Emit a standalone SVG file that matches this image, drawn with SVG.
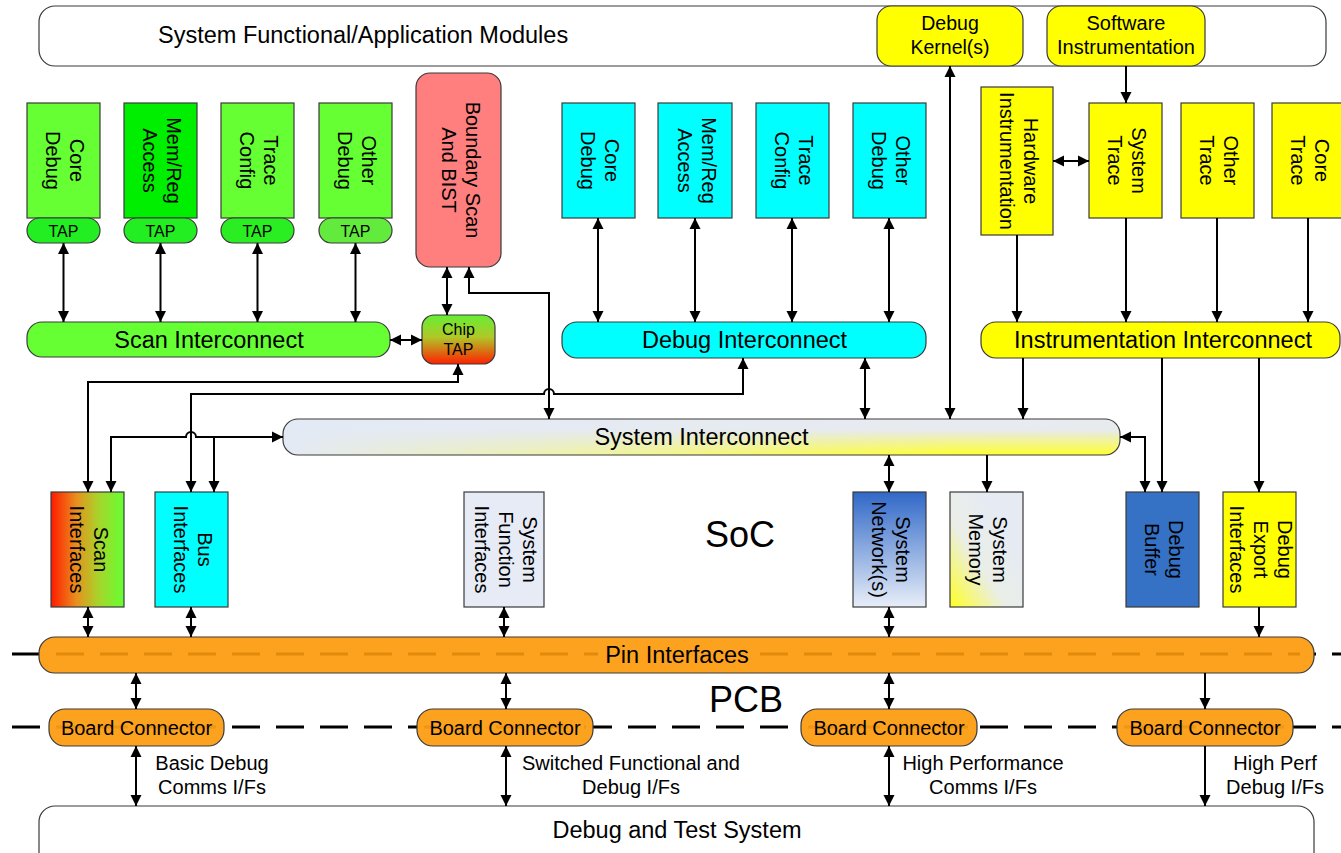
<svg xmlns="http://www.w3.org/2000/svg" width="1341" height="853" viewBox="0 0 1341 853">
  <style>
    .t { font-family: "Liberation Sans", Arial, sans-serif; fill: #000; }
    .box { stroke: #3a3a3a; stroke-width: 1.2; }
    .grn { fill: #66ff33; }
    .cyn { fill: #00ffff; }
    .yel { fill: #ffff00; }
    .org { fill: #fca21f; }
    .gry { fill: #e6ebf5; }
    .vl { font-size: 20px; text-anchor: middle; }
    .bar { font-size: 23.5px; text-anchor: middle; }
    .conn path { stroke: #000; stroke-width: 2; fill: none; }
    .both { marker-start: url(#ah); marker-end: url(#ah); }
    .fwd { marker-end: url(#ah); }
    .dash { stroke: #000; stroke-width: 3; stroke-dasharray: 28 16; fill: none; }
    .idash { stroke: #e28a0c; stroke-width: 3; stroke-dasharray: 28 16; fill: none; }
  </style>
  <defs>
    <marker id="ah" viewBox="0 0 12 12" refX="11" refY="6" markerWidth="12" markerHeight="12" markerUnits="userSpaceOnUse" orient="auto-start-reverse">
      <path d="M0,0.5 L11,6 L0,11.5 z" fill="#000"/>
    </marker>
    <linearGradient id="gScan" x1="0" y1="0" x2="1" y2="0">
      <stop offset="0" stop-color="#ff1a00"/>
      <stop offset="0.35" stop-color="#e8901e"/>
      <stop offset="0.65" stop-color="#a8d42a"/>
      <stop offset="1" stop-color="#66ff33"/>
    </linearGradient>
    <linearGradient id="gChip" x1="0" y1="0" x2="0" y2="1">
      <stop offset="0" stop-color="#66ee33"/>
      <stop offset="0.45" stop-color="#b0c828"/>
      <stop offset="1" stop-color="#ff2000"/>
    </linearGradient>
    <linearGradient id="gNet" x1="0" y1="0" x2="0" y2="1">
      <stop offset="0" stop-color="#3068c8"/>
      <stop offset="1" stop-color="#e8eef8"/>
    </linearGradient>
    <linearGradient id="gMem" x1="0" y1="1" x2="0.7" y2="0.3">
      <stop offset="0" stop-color="#ffff22"/>
      <stop offset="0.55" stop-color="#eaeee6"/>
      <stop offset="1" stop-color="#e6ebf3"/>
    </linearGradient>
    <linearGradient id="gSysH" x1="0" y1="0" x2="1" y2="0">
      <stop offset="0" stop-color="#e4eaf5"/>
      <stop offset="1" stop-color="#e8ebee"/>
    </linearGradient>
    <linearGradient id="gSysV" x1="0" y1="0" x2="0" y2="1">
      <stop offset="0.3" stop-color="#ffff30" stop-opacity="0"/>
      <stop offset="1" stop-color="#ffff30" stop-opacity="1"/>
    </linearGradient>
    <linearGradient id="gMaskH" x1="0" y1="0" x2="1" y2="0">
      <stop offset="0" stop-color="#000"/>
      <stop offset="0.3" stop-color="#555"/>
      <stop offset="0.8" stop-color="#fff"/>
    </linearGradient>
    <mask id="mSys" maskUnits="userSpaceOnUse" x="283" y="419" width="837" height="36">
      <rect x="283" y="419" width="837" height="36" fill="url(#gMaskH)"/>
    </mask>
  </defs>

  <!-- board-level dashed boundaries -->
  <g id="boundaries">
    <path class="dash" d="M12,654 H1341"/>
    <path class="dash" d="M12,727 H1341"/>
  </g>

  <!-- top application layer -->
  <g id="app-modules">
    <rect class="box" x="39" y="6" width="1287" height="60" rx="16" fill="#fff"/>
    <text class="t" x="158" y="43" font-size="23.5">System Functional/Application Modules</text>
  </g>
  <g id="debug-kernel">
    <rect class="box yel" x="877" y="6" width="146" height="60" rx="14"/>
    <text class="t" x="950" text-anchor="middle" font-size="19.5"><tspan x="950" y="30">Debug</tspan><tspan x="950" y="54">Kernel(s)</tspan></text>
  </g>
  <g id="sw-instr">
    <rect class="box yel" x="1047" y="6" width="158" height="60" rx="14"/>
    <text class="t" x="1126" text-anchor="middle" font-size="20"><tspan x="1126" y="30">Software</tspan><tspan x="1126" y="54">Instrumentation</tspan></text>
  </g>

  <!-- scan (TAP) debug components -->
  <g id="scan-core-debug">
    <rect class="box grn" x="27" y="103" width="73" height="115"/>
    <rect class="box" x="27" y="218" width="73" height="25" rx="12.5" fill="#22ee22"/>
    <text class="t vl" transform="translate(65.5,160.5) rotate(90)"><tspan x="0" y="-4.85">Core</tspan><tspan x="0" y="19.15">Debug</tspan></text>
    <text class="t" x="63.5" y="236.5" font-size="16" text-anchor="middle">TAP</text>
  </g>
  <g id="scan-mem-reg">
    <rect class="box" x="124" y="103" width="73" height="115" fill="#00ee00"/>
    <rect class="box" x="124" y="218" width="73" height="25" rx="12.5" fill="#22ee22"/>
    <text class="t vl" transform="translate(162.5,160.5) rotate(90)"><tspan x="0" y="-4.85">Mem/Reg</tspan><tspan x="0" y="19.15">Access</tspan></text>
    <text class="t" x="160.5" y="236.5" font-size="16" text-anchor="middle">TAP</text>
  </g>
  <g id="scan-trace-config">
    <rect class="box grn" x="221" y="103" width="73" height="115"/>
    <rect class="box" x="221" y="218" width="73" height="25" rx="12.5" fill="#2aee22"/>
    <text class="t vl" transform="translate(259.5,160.5) rotate(90)"><tspan x="0" y="-4.85">Trace</tspan><tspan x="0" y="19.15">Config</tspan></text>
    <text class="t" x="257.5" y="236.5" font-size="16" text-anchor="middle">TAP</text>
  </g>
  <g id="scan-other-debug">
    <rect class="box grn" x="319" y="103" width="73" height="115"/>
    <rect class="box" x="319" y="218" width="73" height="25" rx="12.5" fill="#62ea3c"/>
    <text class="t vl" transform="translate(357.5,160.5) rotate(90)"><tspan x="0" y="-4.85">Other</tspan><tspan x="0" y="19.15">Debug</tspan></text>
    <text class="t" x="355.5" y="236.5" font-size="16" text-anchor="middle">TAP</text>
  </g>
  <g id="scan-interconnect">
    <rect class="box grn" x="27" y="322" width="363" height="35" rx="15"/>
    <text class="t bar" x="209" y="348">Scan Interconnect</text>
  </g>
  <g id="boundary-scan">
    <rect class="box" x="416" y="73" width="85" height="194" rx="14" fill="#ff7f7f"/>
    <text class="t vl" transform="translate(461,170) rotate(90)"><tspan x="0" y="-4.85">Boundary Scan</tspan><tspan x="0" y="19.15">And BIST</tspan></text>
  </g>
  <g id="chip-tap">
    <rect class="box" x="422" y="315" width="73" height="49" rx="12" fill="url(#gChip)"/>
    <text class="t" x="458.5" text-anchor="middle" font-size="16"><tspan x="458.5" y="335">Chip</tspan><tspan x="458.5" y="355">TAP</tspan></text>
  </g>

  <!-- memory-mapped debug components -->
  <g id="dbg-core-debug">
    <rect class="box cyn" x="562" y="103" width="73" height="115"/>
    <text class="t vl" transform="translate(600.5,160.5) rotate(90)"><tspan x="0" y="-4.85">Core</tspan><tspan x="0" y="19.15">Debug</tspan></text>
  </g>
  <g id="dbg-mem-reg">
    <rect class="box cyn" x="658" y="103" width="74" height="115"/>
    <text class="t vl" transform="translate(697,160.5) rotate(90)"><tspan x="0" y="-4.85">Mem/Reg</tspan><tspan x="0" y="19.15">Access</tspan></text>
  </g>
  <g id="dbg-trace-config">
    <rect class="box cyn" x="756" y="103" width="73" height="115"/>
    <text class="t vl" transform="translate(794.5,160.5) rotate(90)"><tspan x="0" y="-4.85">Trace</tspan><tspan x="0" y="19.15">Config</tspan></text>
  </g>
  <g id="dbg-other-debug">
    <rect class="box cyn" x="853" y="103" width="73" height="115"/>
    <text class="t vl" transform="translate(891.5,160.5) rotate(90)"><tspan x="0" y="-4.85">Other</tspan><tspan x="0" y="19.15">Debug</tspan></text>
  </g>
  <g id="debug-interconnect">
    <rect class="box cyn" x="562" y="322" width="364" height="36" rx="15"/>
    <text class="t bar" x="744.5" y="348">Debug Interconnect</text>
  </g>

  <!-- instrumentation and trace sources -->
  <g id="hw-instr">
    <rect class="box yel" x="981" y="87" width="72" height="148"/>
    <text class="t vl" transform="translate(1019.5,161) rotate(90)"><tspan x="0" y="-4.85">Hardware</tspan><tspan x="0" y="19.15">Instrumentation</tspan></text>
  </g>
  <g id="system-trace">
    <rect class="box yel" x="1089" y="103" width="73" height="115"/>
    <text class="t vl" transform="translate(1127.5,160.5) rotate(90)"><tspan x="0" y="-4.85">System</tspan><tspan x="0" y="19.15">Trace</tspan></text>
  </g>
  <g id="other-trace">
    <rect class="box yel" x="1181" y="103" width="73" height="115"/>
    <text class="t vl" transform="translate(1219.5,160.5) rotate(90)"><tspan x="0" y="-4.85">Other</tspan><tspan x="0" y="19.15">Trace</tspan></text>
  </g>
  <g id="core-trace">
    <rect class="box yel" x="1272" y="103" width="75" height="115"/>
    <text class="t vl" transform="translate(1310.5,160.5) rotate(90)"><tspan x="0" y="-4.85">Core</tspan><tspan x="0" y="19.15">Trace</tspan></text>
  </g>
  <g id="instr-interconnect">
    <rect class="box yel" x="981" y="322" width="359" height="36" rx="15"/>
    <text class="t bar" x="1163" y="348">Instrumentation Interconnect</text>
  </g>

  <!-- system interconnect -->
  <g id="system-interconnect">
    <rect x="283" y="419" width="837" height="36" rx="15" fill="url(#gSysH)"/>
    <rect x="283" y="419" width="837" height="36" rx="15" fill="url(#gSysV)" mask="url(#mSys)"/>
    <rect class="box" x="283" y="419" width="837" height="36" rx="15" fill="none"/>
    <text class="t bar" x="701.5" y="445">System Interconnect</text>
  </g>

  <!-- SoC edge blocks -->
  <g id="scan-interfaces">
    <rect class="box" x="51" y="492" width="73" height="115" fill="url(#gScan)"/>
    <text class="t vl" transform="translate(89.5,549.5) rotate(90)"><tspan x="0" y="-4.85">Scan</tspan><tspan x="0" y="19.15">Interfaces</tspan></text>
  </g>
  <g id="bus-interfaces">
    <rect class="box cyn" x="155" y="492" width="73" height="115"/>
    <text class="t vl" transform="translate(193.5,549.5) rotate(90)"><tspan x="0" y="-4.85">Bus</tspan><tspan x="0" y="19.15">Interfaces</tspan></text>
  </g>
  <g id="sysfunc-interfaces">
    <rect class="box gry" x="464" y="492" width="80" height="115"/>
    <text class="t vl" transform="translate(506.5,549.5) rotate(90)"><tspan x="0" y="-16.85">System</tspan><tspan x="0" y="7.15">Function</tspan><tspan x="0" y="31.15">Interfaces</tspan></text>
  </g>
  <g id="system-networks">
    <rect class="box" x="853" y="492" width="73" height="115" fill="url(#gNet)"/>
    <text class="t vl" transform="translate(891.5,549.5) rotate(90)"><tspan x="0" y="-4.85">System</tspan><tspan x="0" y="19.15">Network(s)</tspan></text>
  </g>
  <g id="system-memory">
    <rect class="box" x="950" y="492" width="73" height="115" fill="url(#gMem)"/>
    <text class="t vl" transform="translate(988.5,549.5) rotate(90)"><tspan x="0" y="-4.85">System</tspan><tspan x="0" y="19.15">Memory</tspan></text>
  </g>
  <g id="debug-buffer">
    <rect class="box" x="1126" y="492" width="73" height="115" fill="#3572c6"/>
    <text class="t vl" transform="translate(1164.5,549.5) rotate(90)"><tspan x="0" y="-4.85">Debug</tspan><tspan x="0" y="19.15">Buffer</tspan></text>
  </g>
  <g id="debug-export">
    <rect class="box yel" x="1223" y="492" width="73" height="115"/>
    <text class="t vl" transform="translate(1261.5,549.5) rotate(90)"><tspan x="0" y="-16.85">Debug</tspan><tspan x="0" y="7.15">Export</tspan><tspan x="0" y="31.15">Interfaces</tspan></text>
  </g>

  <text id="soc-label" class="t" x="740" y="547" font-size="36" text-anchor="middle">SoC</text>

  <!-- pins and board -->
  <g id="pin-interfaces">
    <rect class="box org" x="39" y="637" width="1275" height="36" rx="16"/>
    <path class="idash" d="M56,654 H1300"/>
    <rect class="org" x="598" y="642" width="158" height="26"/>
    <text class="t bar" x="677" y="663">Pin Interfaces</text>
  </g>
  <text id="pcb-label" class="t" x="746" y="712" font-size="36" text-anchor="middle">PCB</text>
  <g id="board-conn-1">
    <rect class="box org" x="49" y="709" width="175" height="37" rx="16"/>
    <path class="idash" d="M56,727 H216" opacity="0.5"/>
    <text class="t" x="136.5" y="735" font-size="20" text-anchor="middle">Board Connector</text>
  </g>
  <g id="board-conn-2">
    <rect class="box org" x="417" y="709" width="176" height="37" rx="16"/>
    <path class="idash" d="M424,727 H586" stroke-dashoffset="16" opacity="0.5"/>
    <text class="t" x="505" y="735" font-size="20" text-anchor="middle">Board Connector</text>
  </g>
  <g id="board-conn-3">
    <rect class="box org" x="801" y="709" width="176" height="37" rx="16"/>
    <path class="idash" d="M808,727 H970" opacity="0.5"/>
    <text class="t" x="889" y="735" font-size="20" text-anchor="middle">Board Connector</text>
  </g>
  <g id="board-conn-4">
    <rect class="box org" x="1117" y="709" width="176" height="37" rx="16"/>
    <path class="idash" d="M1124,727 H1286" opacity="0.5"/>
    <text class="t" x="1205" y="735" font-size="20" text-anchor="middle">Board Connector</text>
  </g>
  <g id="debug-test-system">
    <rect class="box" x="39" y="806" width="1275" height="70" rx="16" fill="#fff"/>
    <text class="t bar" x="677" y="838">Debug and Test System</text>
  </g>

  <!-- link labels -->
  <g id="link-labels" class="t" font-size="20" text-anchor="middle">
    <text x="212" y="770">Basic Debug</text>
    <text x="212" y="794">Comms I/Fs</text>
    <text x="631" y="770">Switched Functional and</text>
    <text x="631" y="794">Debug I/Fs</text>
    <text x="983" y="770">High Performance</text>
    <text x="983" y="794">Comms I/Fs</text>
    <text x="1275" y="770">High Perf</text>
    <text x="1275" y="794">Debug I/Fs</text>
  </g>

  <!-- connectors -->
  <g id="connectors" class="conn">
    <path class="both" d="M63.5,243 V322"/>
    <path class="both" d="M160.5,243 V322"/>
    <path class="both" d="M257.5,243 V322"/>
    <path class="both" d="M355.5,243 V322"/>
    <path class="both" d="M390,340 H422"/>
    <path class="both" d="M447,267 V315"/>
    <path class="both" d="M469,267 V293 H549 V419"/>
    <path class="both" d="M458,364 V382 H88 V492"/>
    <path class="both" d="M743,358 V394 H554 A5,5 0 0 0 544,394 H191 V492"/>
    <path class="both" d="M111,492 V437 H186 A5,5 0 0 1 196,437 H283"/>
    <path class="fwd" d="M214,437 V492"/>
    <path class="both" d="M598,218 V322"/>
    <path class="both" d="M695,218 V322"/>
    <path class="both" d="M792,218 V322"/>
    <path class="both" d="M889,218 V322"/>
    <path class="both" d="M865,358 V419"/>
    <path class="both" d="M950,66 V419"/>
    <path class="fwd" d="M1126,66 V103"/>
    <path class="both" d="M1053,161 H1089"/>
    <path class="fwd" d="M1017,235 V322"/>
    <path class="fwd" d="M1126,218 V322"/>
    <path class="fwd" d="M1217,218 V322"/>
    <path class="fwd" d="M1308,218 V322"/>
    <path class="fwd" d="M1023,358 V419"/>
    <path class="fwd" d="M1162,358 V492"/>
    <path class="fwd" d="M1259,358 V492"/>
    <path class="both" d="M1120,437 H1145 V492"/>
    <path class="both" d="M889,455 V492"/>
    <path class="fwd" d="M987,455 V492"/>
    <path class="both" d="M88,607 V637"/>
    <path class="both" d="M191,607 V637"/>
    <path class="both" d="M504,607 V637"/>
    <path class="both" d="M889,607 V637"/>
    <path class="fwd" d="M1259,607 V637"/>
    <path class="both" d="M136,673 V709"/>
    <path class="both" d="M506,673 V709"/>
    <path class="both" d="M889,673 V709"/>
    <path class="fwd" d="M1205,673 V709"/>
    <path class="both" d="M136,746 V806"/>
    <path class="both" d="M506,746 V806"/>
    <path class="both" d="M889,746 V806"/>
    <path class="fwd" d="M1205,746 V806"/>
  </g>
</svg>
